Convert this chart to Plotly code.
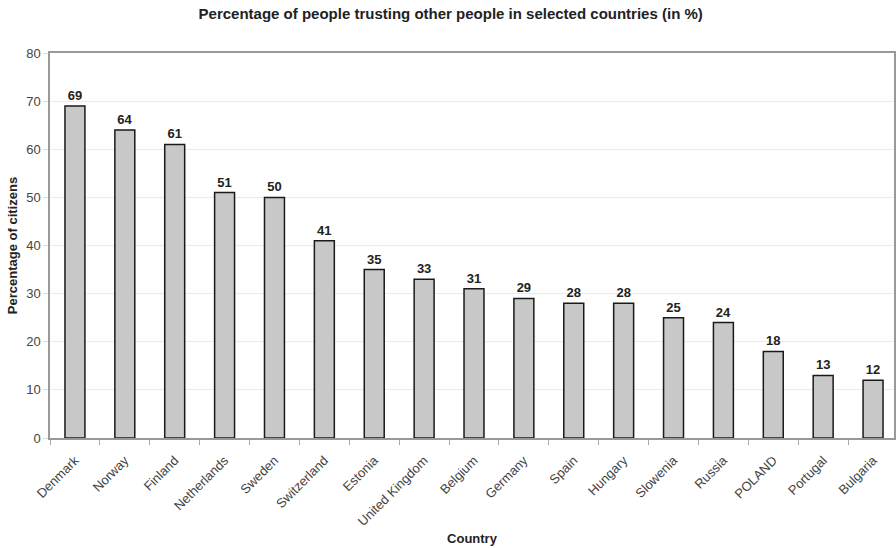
import plotly.graph_objects as go

countries = ["Denmark", "Norway", "Finland", "Netherlands", "Sweden", "Switzerland",
             "Estonia", "United Kingdom", "Belgium", "Germany", "Spain", "Hungary",
             "Slowenia", "Russia", "POLAND", "Portugal", "Bulgaria"]
values = [69, 64, 61, 51, 50, 41, 35, 33, 31, 29, 28, 28, 25, 24, 18, 13, 12]
y_ticks = [0, 10, 20, 30, 40, 50, 60, 70, 80]

font_family = "Liberation Sans, Arial, sans-serif"

fig = go.Figure(go.Bar(
    x=countries, y=values, width=0.4,
    marker=dict(color="#c8c8c8", line=dict(color="#1a1a1a", width=1.5)),
    text=[str(v) for v in values], textposition="outside", cliponaxis=False,
    textfont=dict(family=font_family, size=13, color="#222222", weight="bold"),
))

fig.update_layout(
    width=896, height=548,
    margin=dict(l=50, r=0, t=53, b=110),
    paper_bgcolor="white", plot_bgcolor="white",
    title=dict(text="<b>Percentage of people trusting other people in selected countries (in %)</b>",
               x=0.503, xanchor="center", xref="container", y=1 - 14 / 548, yanchor="middle",
               font=dict(family=font_family, size=15, color="#222222")),
    font=dict(family=font_family, color="#444444"),
    showlegend=False,
    bargap=0.6,
)

fig.update_xaxes(
    range=[-0.5, 16.42], tickson="boundaries", ticks="outside", ticklen=5, tickcolor="#aaaaaa",
    tickangle=-45, tickfont=dict(size=13, color="#444444"), ticklabelstandoff=8,
    showline=True, linecolor="#999999", linewidth=1.5, mirror=True,
    title=dict(text="<b>Country</b>", font=dict(size=13, color="#222222"), standoff=6),
    showgrid=False,
)
fig.update_yaxes(
    range=[0, 80], tickvals=y_ticks, ticks="outside", ticklen=5, tickcolor="#dddddd",
    tickfont=dict(size=13, color="#444444"),
    showline=True, linecolor="#999999", linewidth=1.5, mirror=True,
    showgrid=True, gridcolor="#ebebeb", gridwidth=1, zeroline=False,
    title=dict(text="<b>Percentage of citizens</b>", font=dict(size=13, color="#222222"), standoff=6),
)

fig.write_html("out.html")
